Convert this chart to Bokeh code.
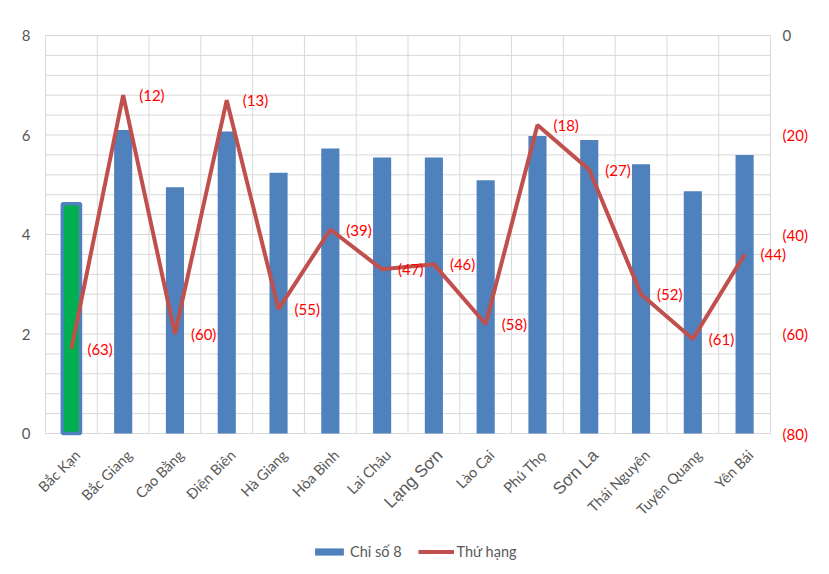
import math
from bokeh.plotting import figure
from bokeh.models import (Range1d, Legend, LegendItem, ColumnDataSource)
from bokeh.core.properties import value
from bokeh.embed import file_html
from bokeh.resources import INLINE

provinces = ["Bắc Kạn", "Bắc Giang", "Cao Bằng", "Điện Biên", "Hà Giang", "Hòa Bình",
             "Lai Châu", "Lạng Sơn", "Lào Cai", "Phú Thọ", "Sơn La", "Thái Nguyên",
             "Tuyên Quang", "Yên Bái"]
chi_so_8 = [4.62, 6.10, 4.95, 6.07, 5.24, 5.73, 5.55, 5.55, 5.09, 5.98, 5.90, 5.41, 4.87, 5.60]
thu_hang = [63, 12, 60, 13, 55, 39, 47, 46, 58, 18, 27, 52, 61, 44]
left_ticks = [0, 2, 4, 6, 8]
left_labels = ["0", "2", "4", "6", "8"]
right_ticks = [0, 20, 40, 60, 80]
right_labels = ["0", "(20)", "(40)", "(60)", "(80)"]
highlight = "Bắc Kạn"
big_labels = ["Lạng Sơn", "Sơn La"]

FONT = "Lato"
GRAY = "#595959"
GRID = "#D9D9D9"
BLUE = "#4F81BD"
RED_LINE = "#C0504D"
RED_TXT = "#FF0000"
GREEN = "#00B050"

# ---- layout (pixels) ----
W, H = 813, 566
AX_LEFT, AX_TOP = 45, 35          # plotting area left / top
AX_RIGHT, AX_BOTTOM = 770, 433    # plotting area right / bottom
n = len(provinces)
px_cat = (AX_RIGHT - AX_LEFT) / n
px_val = (AX_BOTTOM - AX_TOP) / left_ticks[-1]
px_rank = (AX_BOTTOM - AX_TOP) / right_ticks[-1]
x_lo, x_hi = -0.5, n - 0.5
x_start = x_lo - AX_LEFT / px_cat
x_end = x_hi + (W - AX_RIGHT) / px_cat
y_start = -(H - AX_BOTTOM) / px_val
y_end = left_ticks[-1] + AX_TOP / px_val
r_start = right_ticks[-1] + (H - AX_BOTTOM) / px_rank
r_end = -AX_TOP / px_rank

xs = list(range(n))
src = ColumnDataSource(dict(x=xs, v=chi_so_8, r=thu_hang,
                            lbl=["(%d)" % r for r in thu_hang]))

p = figure(width=W, height=H, x_range=Range1d(x_start, x_end),
           y_range=Range1d(y_start, y_end),
           x_axis_location=None, y_axis_location=None,
           output_backend="svg", toolbar_location=None,
           min_border=0)
p.extra_y_ranges = {"rank": Range1d(r_start, r_end)}
p.outline_line_color = None
p.background_fill_color = "white"
p.border_fill_color = "white"
for g in p.grid:
    g.visible = False

# ---- gridlines ----
vx = [x_lo + i for i in range(n + 1)]
p.segment(x0=vx, x1=vx, y0=[0] * len(vx), y1=[left_ticks[-1]] * len(vx),
          line_color=GRID, line_width=1)
hy = [i * 0.4 for i in range(21)]
p.segment(x0=[x_lo] * len(hy), x1=[x_hi] * len(hy), y0=hy, y1=hy,
          line_color=GRID, line_width=1)

# ---- left axis labels ----
lsrc = ColumnDataSource(dict(y=left_ticks, t=left_labels))
p.text(x=x_lo, y="y", text="t", source=lsrc, x_offset=-15,
       text_font=value(FONT), text_font_size="15px", text_color=GRAY,
       text_baseline="middle", text_align="right")

# ---- bars ----
bars = p.vbar(x="x", top="v", width=0.35, source=src, fill_color=BLUE, line_color=None)
hi = provinces.index(highlight)
p.vbar(x=[hi], top=[chi_so_8[hi]], width=0.35, fill_color=GREEN, line_color=BLUE,
       line_width=3.5)

# ---- line ----
ln = p.line(x="x", y="r", source=src, y_range_name="rank", line_color=RED_LINE,
            line_width=4)

# ---- data labels ----
p.text(x="x", y="r", text="lbl", source=src, y_range_name="rank", x_offset=16,
       text_font=value(FONT), text_font_size="15px", text_color=RED_TXT,
       text_baseline="middle", text_align="left")

# ---- right axis labels ----
rsrc = ColumnDataSource(dict(y=right_ticks, t=right_labels,
                             c=[GRAY if t == 0 else RED_TXT for t in right_ticks]))
p.text(x=x_hi, y="y", text="t", source=rsrc, y_range_name="rank", x_offset=12,
       text_font=value(FONT), text_font_size="15px", text_color="c",
       text_baseline="middle", text_align="left")

# ---- category labels ----
csrc = ColumnDataSource(dict(
    x=xs, y=[0] * n, t=provinces,
    f=["Liberation Sans" if nm in big_labels else FONT for nm in provinces],
    s=["17px" if nm in big_labels else "14.5px" for nm in provinces]))
p.text(x="x", y="y", text="t", source=csrc, x_offset=6, y_offset=19,
       angle=math.pi / 4, text_align="right", text_baseline="middle",
       text_font="f", text_font_size="s", text_color=GRAY)

# ---- legend ----
legend = Legend(items=[LegendItem(label="Chỉ số 8", renderers=[bars]),
                       LegendItem(label="Thứ hạng", renderers=[ln])],
                orientation="horizontal", location=(311, 6))
legend.border_line_color = None
legend.background_fill_alpha = 0
legend.label_text_font = FONT
legend.label_text_font_size = "14.5px"
legend.label_text_color = GRAY
legend.label_height = 16
legend.glyph_width = 36
legend.glyph_height = 9
legend.spacing = 16
legend.label_standoff = 3
legend.padding = 5
legend.margin = 0
p.add_layout(legend, "center")

open("out.html", "w").write(file_html(p, INLINE))
